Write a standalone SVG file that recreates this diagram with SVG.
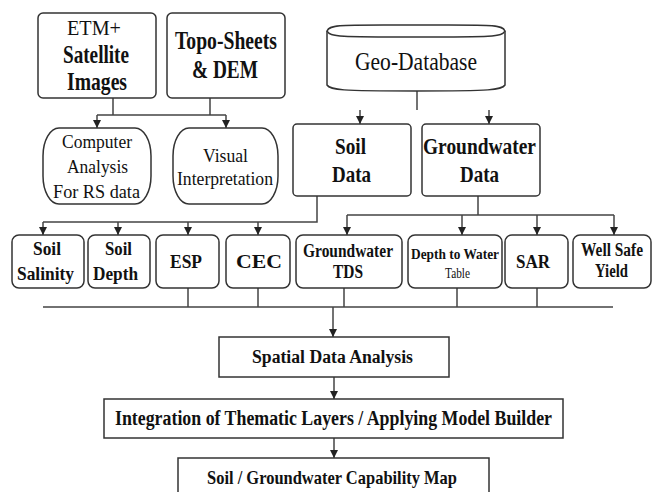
<svg xmlns="http://www.w3.org/2000/svg" width="653" height="492" viewBox="0 0 653 492">
<defs>
<marker id="arr" markerUnits="userSpaceOnUse" markerWidth="9" markerHeight="9" refX="8" refY="4" orient="auto">
<path d="M0,0 L8,4 L0,8 z" fill="#222"/>
</marker>
<style>
.box{fill:#fff;stroke:#333;stroke-width:1.5}
text{font-family:'Liberation Serif','DejaVu Serif','Times New Roman',serif;fill:#111}
.b{font-weight:bold}
.c{fill:none;stroke:#444;stroke-width:1.5}
.a{fill:none;stroke:#444;stroke-width:1.5;marker-end:url(#arr)}
</style>
</defs>
<rect width="653" height="492" fill="#fff"/>

<g id="connectors">
<path class="c" d="M113,98 V115 M210,98 V115 M97,115 H226"/>
<path class="a" d="M97,115 V128"/>
<path class="a" d="M226,115 V128"/>
<path class="c" d="M417,90 V110"/>
<path class="a" d="M360,110 V124"/>
<path class="a" d="M489,110 V124"/>
<path class="c" d="M317,196 V222 H43"/>
<path class="a" d="M43,222 V235"/>
<path class="a" d="M118,222 V235"/>
<path class="a" d="M188,222 V235"/>
<path class="a" d="M258,222 V235"/>
<path class="c" d="M478,196 V215 M347,215 H614"/>
<path class="a" d="M347,215 V235"/>
<path class="a" d="M462,215 V235"/>
<path class="a" d="M537,215 V235"/>
<path class="a" d="M614,215 V235"/>
<path class="c" d="M188,288 V307 M258,288 V307 M344,288 V307 M457,288 V307 M537,288 V307 M43,307 H613"/>
<path class="a" d="M333,307 V337"/>
<path class="a" d="M334,377 V399"/>
<path class="a" d="M334,438 V458"/>
</g>

<g id="etm">
<rect class="box" x="38" y="13" width="118" height="85" rx="5"/>
<text x="67" y="35" font-size="22" textLength="54" lengthAdjust="spacingAndGlyphs">ETM+</text>
<text class="b" x="63" y="63" font-size="25" textLength="66" lengthAdjust="spacingAndGlyphs">Satellite</text>
<text class="b" x="67" y="90" font-size="25" textLength="60" lengthAdjust="spacingAndGlyphs">Images</text>
</g>

<g id="topo">
<rect class="box" x="167" y="13" width="118" height="85" rx="5"/>
<text class="b" x="175" y="49" font-size="25" textLength="102" lengthAdjust="spacingAndGlyphs">Topo-Sheets</text>
<text class="b" x="192" y="78" font-size="25" textLength="66" lengthAdjust="spacingAndGlyphs">&amp; DEM</text>
</g>

<g id="geodb">
<path class="box" d="M327,31 V85 C330,90 340,91 416,91 C492,91 502,90 505,85 V31"/>
<path class="box" d="M327,31 C330,24 340,25 416,25 C492,25 502,24 505,31 C502,37 492,37 416,37 C340,37 330,37 327,31 Z"/>
<text x="355" y="70" font-size="26" textLength="122" lengthAdjust="spacingAndGlyphs">Geo-Database</text>
</g>

<g id="computer">
<rect class="box" x="43" y="128" width="108" height="76" rx="16" ry="28"/>
<text x="62" y="148" font-size="19" textLength="70" lengthAdjust="spacingAndGlyphs">Computer</text>
<text x="67" y="173" font-size="19" textLength="61" lengthAdjust="spacingAndGlyphs">Analysis</text>
<text x="53" y="198" font-size="19" textLength="87" lengthAdjust="spacingAndGlyphs">For RS data</text>
</g>

<g id="visual">
<rect class="box" x="173" y="128" width="105" height="76" rx="16" ry="28"/>
<text x="203" y="162" font-size="19" textLength="45" lengthAdjust="spacingAndGlyphs">Visual</text>
<text x="177" y="185" font-size="19" textLength="96" lengthAdjust="spacingAndGlyphs">Interpretation</text>
</g>

<g id="soildata">
<rect class="box" x="293" y="124" width="118" height="72" rx="4"/>
<text class="b" x="335" y="154" font-size="24" textLength="31" lengthAdjust="spacingAndGlyphs">Soil</text>
<text class="b" x="332" y="182" font-size="24" textLength="39" lengthAdjust="spacingAndGlyphs">Data</text>
</g>

<g id="gwdata">
<rect class="box" x="422" y="124" width="118" height="72" rx="4"/>
<text class="b" x="423" y="154" font-size="24" textLength="113" lengthAdjust="spacingAndGlyphs">Groundwater</text>
<text class="b" x="460" y="182" font-size="24" textLength="39" lengthAdjust="spacingAndGlyphs">Data</text>
</g>

<g id="salinity">
<rect class="box" x="12" y="235" width="72" height="53" rx="7"/>
<text class="b" x="33" y="255" font-size="19" textLength="28" lengthAdjust="spacingAndGlyphs">Soil</text>
<text class="b" x="17" y="280" font-size="19" textLength="57" lengthAdjust="spacingAndGlyphs">Salinity</text>
</g>

<g id="depth">
<rect class="box" x="88" y="235" width="62" height="53" rx="7"/>
<text class="b" x="105" y="255" font-size="19" textLength="27" lengthAdjust="spacingAndGlyphs">Soil</text>
<text class="b" x="93" y="280" font-size="19" textLength="45" lengthAdjust="spacingAndGlyphs">Depth</text>
</g>

<g id="esp">
<rect class="box" x="156" y="235" width="63" height="53" rx="7"/>
<text class="b" x="170" y="268" font-size="19" textLength="32" lengthAdjust="spacingAndGlyphs">ESP</text>
</g>

<g id="cec">
<rect class="box" x="226" y="235" width="64" height="53" rx="7"/>
<text class="b" x="236" y="268" font-size="19" textLength="46" lengthAdjust="spacingAndGlyphs">CEC</text>
</g>

<g id="tds">
<rect class="box" x="296" y="235" width="106" height="53" rx="7"/>
<text class="b" x="303" y="257" font-size="18" textLength="90" lengthAdjust="spacingAndGlyphs">Groundwater</text>
<text class="b" x="333" y="278" font-size="18" textLength="30" lengthAdjust="spacingAndGlyphs">TDS</text>
</g>

<g id="dwt">
<rect class="box" x="408" y="235" width="94" height="53" rx="7"/>
<text class="b" x="411" y="259" font-size="15" textLength="88" lengthAdjust="spacingAndGlyphs">Depth to Water</text>
<text x="445" y="278" font-size="15" textLength="25" lengthAdjust="spacingAndGlyphs">Table</text>
</g>

<g id="sar">
<rect class="box" x="505" y="235" width="63" height="53" rx="7"/>
<text class="b" x="516" y="268" font-size="19" textLength="34" lengthAdjust="spacingAndGlyphs">SAR</text>
</g>

<g id="wsy">
<rect class="box" x="573" y="235" width="78" height="53" rx="7"/>
<text class="b" x="581" y="256" font-size="18" textLength="62" lengthAdjust="spacingAndGlyphs">Well Safe</text>
<text class="b" x="595" y="277" font-size="18" textLength="33" lengthAdjust="spacingAndGlyphs">Yield</text>
</g>

<g id="spatial">
<rect class="box" x="219" y="337" width="230" height="40"/>
<text class="b" x="252" y="363" font-size="18" textLength="161" lengthAdjust="spacingAndGlyphs">Spatial Data Analysis</text>
</g>

<g id="integration">
<rect class="box" x="104" y="399" width="459" height="39"/>
<text class="b" x="115" y="425" font-size="20" textLength="437" lengthAdjust="spacingAndGlyphs">Integration of Thematic Layers / Applying Model Builder</text>
</g>

<g id="capability">
<rect class="box" x="178" y="458" width="311" height="40"/>
<text class="b" x="207" y="484" font-size="19" textLength="250" lengthAdjust="spacingAndGlyphs">Soil / Groundwater Capability Map</text>
</g>
</svg>
